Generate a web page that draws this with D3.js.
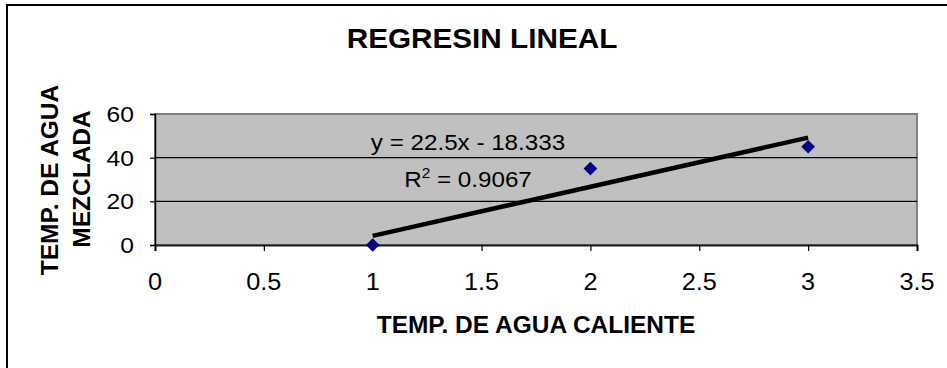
<!DOCTYPE html>
<html>
<head>
<meta charset="utf-8">
<script src="https://cdn.jsdelivr.net/npm/d3@7"></script>
<style>
  html, body { margin: 0; padding: 0; background: #ffffff; }
  svg { display: block; }
  text { font-family: "Liberation Sans", Arial, sans-serif; fill: #000; }
</style>
</head>
<body>
<script>
// Observations
const hotWater = [1, 2, 3];
const mixedWater = [0, 35, 45];

// Fitted trendline y = slope * x + intercept, and its R²
const slope = 22.5;
const intercept = -18.333;
const rSquared = 0.9067;

// Axis ticks
const xTicks = [0, 0.5, 1, 1.5, 2, 2.5, 3, 3.5];
const yTicks = [0, 20, 40, 60];

const titleText = "REGRESIN LINEAL";
const xTitleText = "TEMP. DE AGUA CALIENTE";
const yTitleLines = ["TEMP. DE AGUA", "MEZCLADA"];

const W = 947, H = 368;
const plot = { left: 155, right: 917, top: 114, bottom: 245 };

const svg = d3.select("body").append("svg")
  .attr("width", W).attr("height", H);

// outer chart frame
svg.append("rect")
  .attr("x", 7).attr("y", 5)
  .attr("width", 1000).attr("height", 500)
  .attr("fill", "#fff").attr("stroke", "#000").attr("stroke-width", 2);

const x = d3.scaleLinear().domain([0, 3.5]).range([plot.left, plot.right]);
const y = d3.scaleLinear().domain([0, 60]).range([plot.bottom, plot.top]);

// text helper with a slight horizontal stretch
function label(parent, px, py, str, o) {
  const g = parent.append("g")
    .attr("transform", `translate(${px},${py})` + (o.rotate ? ` rotate(${o.rotate})` : "") + ` scale(${o.sx || 1},1)`);
  const t = g.append("text")
    .attr("text-anchor", o.anchor || "middle")
    .attr("font-size", o.size)
    .attr("font-weight", o.bold ? "bold" : "normal")
    .text(str);
  return t;
}

// plot area
svg.append("rect")
  .attr("x", x(0)).attr("y", y(60))
  .attr("width", x(3.5) - x(0)).attr("height", y(0) - y(60))
  .attr("fill", "#c0c0c0").attr("stroke", "#808080").attr("stroke-width", 2);

// horizontal gridlines
svg.append("g").selectAll("line")
  .data(yTicks.filter(d => d > 0 && d < 60))
  .join("line")
  .attr("x1", x(0)).attr("x2", x(3.5))
  .attr("y1", d => y(d)).attr("y2", d => y(d))
  .attr("stroke", "#000").attr("stroke-width", 1.2);

// axes
const yAxis = svg.append("g")
  .attr("transform", `translate(${x(0)},0)`)
  .call(d3.axisLeft(y).tickValues(yTicks).tickSize(5).tickFormat(""));
const xAxis = svg.append("g")
  .attr("transform", `translate(0,${y(0)})`)
  .call(d3.axisBottom(x).tickValues(xTicks).tickSize(6).tickFormat(""));
[yAxis, xAxis].forEach(a => {
  a.select(".domain").attr("stroke", "#000").attr("stroke-width", 1.5);
  a.selectAll(".tick line").attr("stroke", "#000").attr("stroke-width", 1.2);
});
xAxis.select(".domain").attr("stroke", "#1a1a1a").attr("stroke-width", 2);

// tick labels
yTicks.forEach(t => {
  label(svg, 134, y(t) + 8, String(t), { size: 22, anchor: "end", sx: 1.12 });
});
xTicks.forEach(t => {
  label(svg, x(t), 290, String(t), { size: 23, sx: 1.1 });
});

// trendline over the observed range
const xMin = d3.min(hotWater), xMax = d3.max(hotWater);
svg.append("line")
  .attr("x1", x(xMin)).attr("y1", y(slope * xMin + intercept))
  .attr("x2", x(xMax)).attr("y2", y(slope * xMax + intercept))
  .attr("stroke", "#000").attr("stroke-width", 4.5);

// data markers
const diamond = d3.symbol().type(d3.symbolDiamond2).size(120);
svg.append("g").selectAll("path")
  .data(hotWater.map((v, i) => [v, mixedWater[i]]))
  .join("path")
  .attr("transform", d => `translate(${x(d[0])},${y(d[1])})`)
  .attr("d", diamond)
  .attr("fill", "#000080");

// trendline equation and R²
label(svg, 468, 150, `y = ${slope}x - ${Math.abs(intercept)}`, { size: 22, sx: 1.1 });
const r2 = label(svg, 468, 186.5, "", { size: 22, sx: 1.1 });
r2.append("tspan").text("R");
r2.append("tspan").attr("font-size", 14).attr("dy", -9).text("2");
r2.append("tspan").attr("dy", 9).text(` = ${rSquared}`);

// titles
label(svg, 482, 48, titleText, { size: 27, bold: true, sx: 1.1 });
label(svg, 536, 333, xTitleText, { size: 24, bold: true, sx: 1.02 });
label(svg, 58, 180, yTitleLines[0], { size: 24, bold: true, rotate: -90, sx: 1.02 });
label(svg, 90, 179, yTitleLines[1], { size: 24, bold: true, rotate: -90, sx: 1.02 });
</script>
</body>
</html>
